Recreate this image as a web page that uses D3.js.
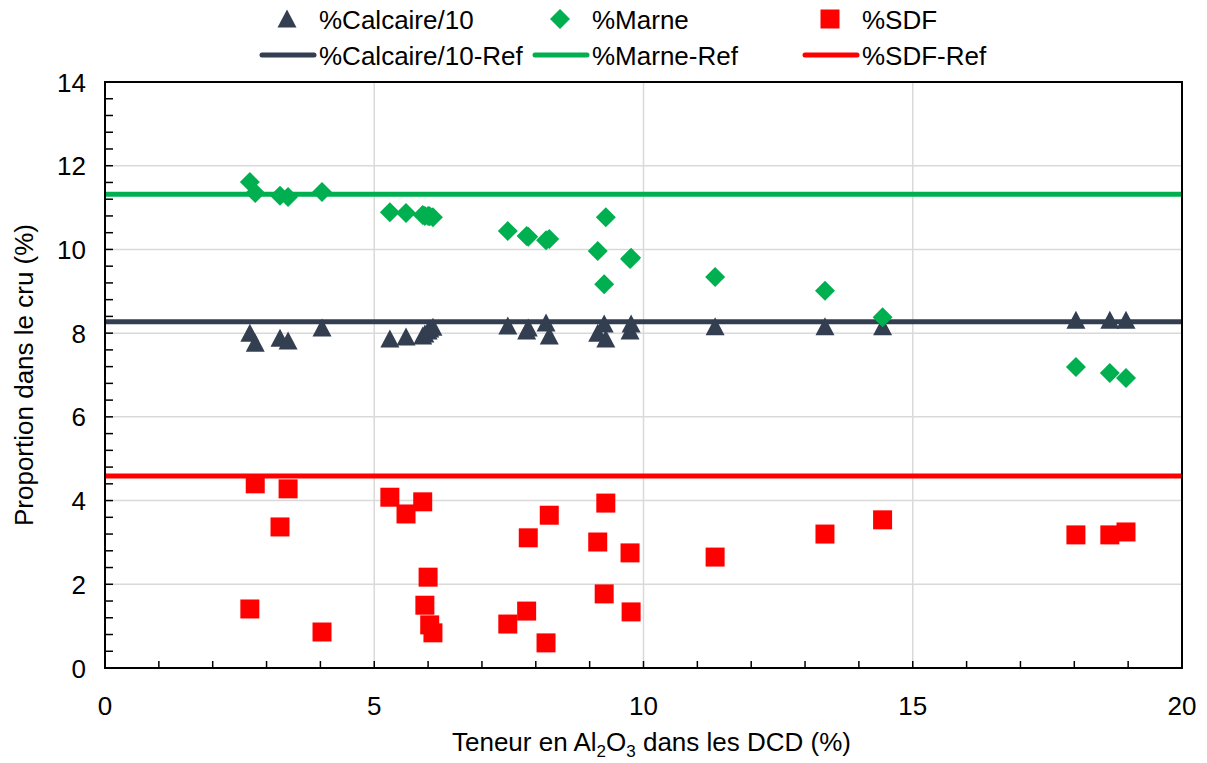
<!DOCTYPE html>
<html><head><meta charset="utf-8">
<script src="https://cdn.jsdelivr.net/npm/d3@7"></script>
<style>
body{margin:0;background:#fff}
text{font-family:"Liberation Sans Narrow","Arial Narrow","Liberation Sans",Arial,sans-serif;fill:#000}
</style>
</head><body>
<svg id="c" width="1207" height="763"></svg>
<script>
// ---- data ----
const alumina  = [2.69,2.79,3.25,3.40,4.03,5.29,5.59,5.90,5.94,6.00,6.03,6.09,7.48,7.83,7.86,8.19,8.25,9.15,9.27,9.30,9.75,9.77,11.33,13.37,14.44,18.03,18.66,18.96];
const calcaire = [8.00,7.76,7.88,7.81,8.12,7.86,7.91,7.93,7.98,8.05,8.10,8.14,8.17,8.05,8.12,8.24,7.93,8.00,8.22,7.86,8.05,8.22,8.15,8.15,8.15,8.31,8.31,8.31];
const marne    = [11.61,11.35,11.28,11.25,11.37,10.89,10.87,10.82,10.80,10.80,10.79,10.77,10.44,10.32,10.30,10.22,10.25,9.96,9.17,10.77,9.77,9.80,9.34,9.01,8.38,7.19,7.05,6.93];
const sdf      = [1.41,4.40,3.37,4.28,0.86,4.08,3.68,3.97,1.50,2.17,1.03,0.84,1.05,1.36,3.11,0.60,3.65,3.01,1.77,3.94,2.75,1.34,2.65,3.20,3.54,3.18,3.18,3.25];
const refValues = [8.27, 11.32, 4.59]; // Calcaire/10, Marne, SDF
const seriesNames = ["%Calcaire/10","%Marne","%SDF"];
const refNames = ["%Calcaire/10-Ref","%Marne-Ref","%SDF-Ref"];
const colors = ["#333F50","#00B050","#FF0000"];
const xTicks = [0,5,10,15,20];
const yTicks = [0,2,4,6,8,10,12,14];
const yTitle = "Proportion dans le cru (%)";

// ---- layout ----
const svg = d3.select("#c");
const L=105, R=1182, T=82, B=668;
const x = d3.scaleLinear().domain([0,20]).range([L,R]);
const y = d3.scaleLinear().domain([0,14]).range([B,T]);
const FS = 26;

// gridlines
const g = svg.append("g");
g.selectAll("line.gx").data(xTicks.slice(1,-1)).join("line")
  .attr("x1",d=>x(d)).attr("x2",d=>x(d)).attr("y1",T).attr("y2",B)
  .attr("stroke","#d9d9d9").attr("stroke-width",1.5);
g.selectAll("line.gy").data(yTicks.slice(1)).join("line")
  .attr("x1",L).attr("x2",R).attr("y1",d=>y(d)).attr("y2",d=>y(d))
  .attr("stroke","#d9d9d9").attr("stroke-width",1.5);

// minor ticks (inside)
const xMinor = d3.range(0,21,1);
const yMinor = d3.range(0,14.01,0.4);
g.selectAll("line.mx").data(xMinor).join("line")
  .attr("x1",d=>x(d)).attr("x2",d=>x(d)).attr("y1",B).attr("y2",B-7)
  .attr("stroke","#000").attr("stroke-width",1.5);
g.selectAll("line.my").data(yMinor).join("line")
  .attr("x1",L).attr("x2",L+8).attr("y1",d=>y(d)).attr("y2",d=>y(d))
  .attr("stroke","#000").attr("stroke-width",1.5);

// reference lines
svg.append("g").selectAll("line").data(refValues).join("line")
  .attr("x1",L).attr("x2",R).attr("y1",d=>y(d)).attr("y2",d=>y(d))
  .attr("stroke",(d,i)=>colors[i]).attr("stroke-width",5);

// markers
const tri = "M0,-9.5L9.5,8.5L-9.5,8.5Z";
const diamond = "M0,-10L10,0L0,10L-10,0Z";
const square = "M-9.5,-9.5H9.5V9.5H-9.5Z";
const shapes = [tri, diamond, square];
const vals = [calcaire, marne, sdf];
vals.forEach((arr,si)=>{
  svg.append("g").selectAll("path").data(arr).join("path")
    .attr("d",shapes[si])
    .attr("transform",(d,i)=>`translate(${x(alumina[i])},${y(d)})`)
    .attr("fill",colors[si]);
});

// frame
svg.append("rect").attr("x",L).attr("y",T).attr("width",R-L).attr("height",B-T)
  .attr("fill","none").attr("stroke","#000").attr("stroke-width",2);

// tick labels
svg.append("g").selectAll("text").data(xTicks).join("text")
  .attr("x",d=>x(d)).attr("y",B+47).attr("text-anchor","middle")
  .attr("font-size",FS).text(d=>d);
svg.append("g").selectAll("text").data(yTicks).join("text")
  .attr("x",L-19).attr("y",d=>y(d)+9.5).attr("text-anchor","end")
  .attr("font-size",FS).text(d=>d);

// axis titles
const xt = svg.append("text").attr("x",(L+R)/2+8).attr("y",751).attr("text-anchor","middle").attr("font-size",FS);
xt.append("tspan").text("Teneur en Al");
xt.append("tspan").text("2").attr("font-size",17).attr("dy",6);
xt.append("tspan").text("O").attr("dy",-6);
xt.append("tspan").text("3").attr("font-size",17).attr("dy",6);
xt.append("tspan").text(" dans les DCD (%)").attr("dy",-6);

svg.append("text").attr("transform",`translate(33,${(T+B)/2}) rotate(-90)`)
  .attr("text-anchor","middle").attr("font-size",FS).text(yTitle);

// legend
const legX = [287, 560, 830];
const lg = svg.append("g");
seriesNames.forEach((n,i)=>{
  lg.append("path").attr("d",shapes[i]).attr("fill",colors[i])
    .attr("transform",`translate(${legX[i]},19)`);
  lg.append("text").attr("x",legX[i]+32).attr("y",29).attr("font-size",FS).text(n);
});
refNames.forEach((n,i)=>{
  lg.append("line").attr("x1",legX[i]-25).attr("x2",legX[i]+27).attr("y1",55).attr("y2",55)
    .attr("stroke",colors[i]).attr("stroke-width",5).attr("stroke-linecap","round");
  lg.append("text").attr("x",legX[i]+32).attr("y",65).attr("font-size",FS).text(n);
});
</script>
</body></html>
